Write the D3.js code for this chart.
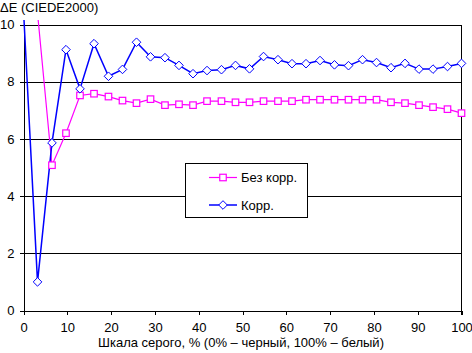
<!DOCTYPE html>
<html>
<head>
<meta charset="utf-8">
<script src="https://cdn.jsdelivr.net/npm/d3@7"></script>
<style>
  html, body { margin: 0; padding: 0; background: #fff; }
  svg { display: block; }
  text { font-family: "Liberation Sans", Arial, sans-serif; font-size: 13px; fill: #000; }
</style>
</head>
<body>
<svg id="chart" width="472" height="353"></svg>
<script>
// ---- data ----
const grayLevels = [0, 3.2, 6.5, 9.7, 12.9, 16.1, 19.4, 22.6, 25.8, 29.0, 32.3, 35.5, 38.7, 41.9, 45.2, 48.4,
                    51.6, 54.8, 58.1, 61.3, 64.5, 67.7, 71.0, 74.2, 77.4, 80.6, 83.9, 87.1, 90.3, 93.5, 96.8, 100];
const seriesNames = ["Без корр.", "Корр."];
const uncorrected = [12.0, 10.4, 5.08, 6.2, 7.52, 7.58, 7.48, 7.34, 7.25, 7.39, 7.18, 7.21, 7.18, 7.32, 7.32, 7.28,
                     7.28, 7.32, 7.32, 7.32, 7.37, 7.37, 7.37, 7.37, 7.37, 7.37, 7.28, 7.25, 7.18, 7.11, 7.04, 6.90];
const corrected   = [10.5, 1.0, 5.86, 9.12, 7.75, 9.33, 8.19, 8.43, 9.38, 8.87, 8.84, 8.57, 8.28, 8.39, 8.42, 8.57,
                     8.45, 8.88, 8.77, 8.63, 8.63, 8.74, 8.59, 8.56, 8.77, 8.67, 8.49, 8.64, 8.44, 8.44, 8.53, 8.64];
const xTicks = [0, 10, 20, 30, 40, 50, 60, 70, 80, 90, 100];
const yTicks = [0, 2, 4, 6, 8, 10];
const yTitle = "ΔE (CIEDE2000)";
const xTitle = "Шкала серого, % (0% – черный, 100% – белый)";

// ---- layout ----
const FONT = '"Liberation Sans", Arial, sans-serif';
const svg = d3.select("#chart");
const x = d3.scaleLinear().domain([0, 100]).range([23.5, 461.5]);
const y = d3.scaleLinear().domain([0, 10]).range([310.5, 24.5]);

svg.append("defs").append("clipPath").attr("id", "clip")
  .append("rect").attr("x", 0).attr("y", 20).attr("width", 472).attr("height", 295);

// gridlines
svg.append("g")
  .attr("transform", `translate(${x(0)},0)`)
  .call(d3.axisLeft(y).tickValues(yTicks.filter(d => d > 0)).tickSize(-(x(100) - x(0))).tickFormat(""))
  .call(g => g.select(".domain").remove())
  .call(g => g.selectAll("line").attr("stroke", "#000").attr("shape-rendering", "crispEdges"));

// right border
svg.append("line")
  .attr("x1", x(100)).attr("x2", x(100)).attr("y1", y(10)).attr("y2", y(0) + 4)
  .attr("stroke", "#000").attr("shape-rendering", "crispEdges");

// y axis
svg.append("g")
  .attr("transform", `translate(${x(0)},0)`)
  .call(d3.axisLeft(y).tickValues(yTicks).tickSize(4).tickPadding(5).tickSizeOuter(0))
  .call(g => g.selectAll("line, path").attr("stroke", "#000").attr("shape-rendering", "crispEdges"))
  .call(g => g.selectAll("text").style("font-size", "13px").style("font-family", FONT));

// x axis
svg.append("g")
  .attr("transform", `translate(0,${y(0)})`)
  .call(d3.axisBottom(x).tickValues(xTicks).tickSize(4).tickPadding(8).tickSizeOuter(0))
  .call(g => g.selectAll("line, path").attr("stroke", "#000").attr("shape-rendering", "crispEdges"))
  .call(g => g.selectAll("text").style("font-size", "13px").style("font-family", FONT));

// titles
svg.append("text").attr("x", 0).attr("y", 12).text(yTitle);
svg.append("text").attr("x", 241).attr("y", 346.5).attr("text-anchor", "middle").text(xTitle);

// series
const plot = svg.append("g").attr("clip-path", "url(#clip)");
const line = d3.line().x((d, i) => x(grayLevels[i])).y(d => y(d));

plot.append("path").datum(uncorrected)
  .attr("d", line).attr("fill", "none").attr("stroke", "#ff00ff").attr("stroke-width", 1.2);
plot.append("path").datum(corrected)
  .attr("d", line).attr("fill", "none").attr("stroke", "#0000ff").attr("stroke-width", 1.5);

const sq = 6.5;
plot.selectAll(".sq").data(uncorrected).join("rect")
  .attr("x", (d, i) => x(grayLevels[i]) - sq / 2)
  .attr("y", d => y(d) - sq / 2)
  .attr("width", sq).attr("height", sq)
  .attr("fill", "#fff").attr("stroke", "#ff00ff").attr("stroke-width", 1.2);

const dm = 4.3;
const diamond = (cx, cy) => `M${cx},${cy - dm}L${cx + dm},${cy}L${cx},${cy + dm}L${cx - dm},${cy}Z`;
plot.selectAll(".dm").data(corrected).join("path")
  .attr("d", (d, i) => diamond(x(grayLevels[i]), y(d)))
  .attr("fill", "#fff").attr("stroke", "#0000ff").attr("stroke-width", 1);

// legend
const lg = svg.append("g");
lg.append("rect").attr("x", 185.5).attr("y", 163.5).attr("width", 122).attr("height", 54)
  .attr("fill", "#fff").attr("stroke", "#000").attr("shape-rendering", "crispEdges");
const items = [
  { name: seriesNames[0], color: "#ff00ff", marker: "sq", cy: 177.5 },
  { name: seriesNames[1], color: "#0000ff", marker: "dm", cy: 205 }
];
items.forEach(it => {
  lg.append("line").attr("x1", 209).attr("x2", 237).attr("y1", it.cy).attr("y2", it.cy)
    .attr("stroke", it.color).attr("stroke-width", it.marker === "sq" ? 1.2 : 1.5);
  if (it.marker === "sq") {
    lg.append("rect").attr("x", 223 - sq / 2).attr("y", it.cy - sq / 2).attr("width", sq).attr("height", sq)
      .attr("fill", "#fff").attr("stroke", it.color).attr("stroke-width", 1.2);
  } else {
    lg.append("path").attr("d", diamond(223, it.cy)).attr("fill", "#fff").attr("stroke", it.color);
  }
  lg.append("text").attr("x", 241).attr("y", it.cy + 4.5).text(it.name);
});
</script>
</body>
</html>
